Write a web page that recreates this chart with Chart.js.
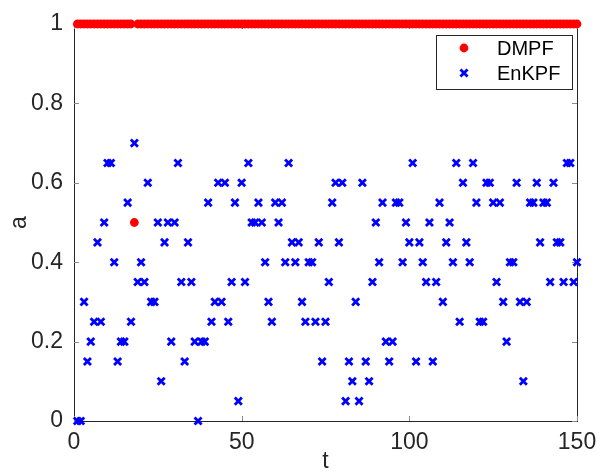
<!DOCTYPE html>
<html>
<head>
<meta charset="utf-8">
<script src="https://cdn.jsdelivr.net/npm/chart.js@4.4.0/dist/chart.umd.min.js"></script>
<style>
  body { margin: 0; background: #fff; }
  #wrap { width: 601px; height: 473px; }
</style>
</head>
<body>
<div id="wrap"><canvas id="chart" width="601" height="473"></canvas></div>
<script>
// time steps 1..150
const steps = [];
for (let i = 1; i <= 150; i++) steps.push(i);

const dmpf = [
  1, 1, 1, 1, 1, 1, 1, 1, 1, 1,
  1, 1, 1, 1, 1, 1, 1, 0.5, 1, 1,
  1, 1, 1, 1, 1, 1, 1, 1, 1, 1,
  1, 1, 1, 1, 1, 1, 1, 1, 1, 1,
  1, 1, 1, 1, 1, 1, 1, 1, 1, 1,
  1, 1, 1, 1, 1, 1, 1, 1, 1, 1,
  1, 1, 1, 1, 1, 1, 1, 1, 1, 1,
  1, 1, 1, 1, 1, 1, 1, 1, 1, 1,
  1, 1, 1, 1, 1, 1, 1, 1, 1, 1,
  1, 1, 1, 1, 1, 1, 1, 1, 1, 1,
  1, 1, 1, 1, 1, 1, 1, 1, 1, 1,
  1, 1, 1, 1, 1, 1, 1, 1, 1, 1,
  1, 1, 1, 1, 1, 1, 1, 1, 1, 1,
  1, 1, 1, 1, 1, 1, 1, 1, 1, 1,
  1, 1, 1, 1, 1, 1, 1, 1, 1, 1
];

const enkpf = [
  0, 0, 0.3, 0.15, 0.2, 0.25, 0.45, 0.25, 0.5, 0.65,
  0.65, 0.4, 0.15, 0.2, 0.2, 0.55, 0.25, 0.7, 0.35, 0.4,
  0.35, 0.6, 0.3, 0.3, 0.5, 0.1, 0.45, 0.5, 0.2, 0.5,
  0.65, 0.35, 0.15, 0.45, 0.35, 0.2, 0, 0.2, 0.2, 0.55,
  0.25, 0.3, 0.6, 0.3, 0.6, 0.25, 0.35, 0.55, 0.05, 0.6,
  0.35, 0.65, 0.5, 0.5, 0.55, 0.5, 0.4, 0.3, 0.25, 0.55,
  0.5, 0.55, 0.4, 0.65, 0.45, 0.4, 0.45, 0.3, 0.25, 0.4,
  0.4, 0.25, 0.45, 0.15, 0.25, 0.35, 0.55, 0.6, 0.45, 0.6,
  0.05, 0.15, 0.1, 0.3, 0.05, 0.6, 0.15, 0.1, 0.35, 0.5,
  0.4, 0.55, 0.2, 0.15, 0.2, 0.55, 0.55, 0.4, 0.5, 0.45,
  0.65, 0.15, 0.45, 0.4, 0.35, 0.5, 0.15, 0.35, 0.55, 0.3,
  0.45, 0.5, 0.4, 0.65, 0.25, 0.6, 0.45, 0.4, 0.65, 0.55,
  0.25, 0.25, 0.6, 0.6, 0.55, 0.35, 0.55, 0.3, 0.2, 0.4,
  0.4, 0.6, 0.3, 0.1, 0.3, 0.55, 0.55, 0.6, 0.45, 0.55,
  0.55, 0.35, 0.6, 0.45, 0.45, 0.35, 0.65, 0.65, 0.35, 0.4
];

const xTicks = [0, 50, 100, 150];
const yTicks = [0, 0.2, 0.4, 0.6, 0.8, 1];

const FONT = '"Liberation Sans", Arial, sans-serif';
const AXIS_COLOR = '#262626';

// box around the axes with inward tick marks on all four sides
const axisBox = {
  id: 'axisBox',
  beforeDatasetsDraw(chart) {
    const { ctx, chartArea: a, scales: { x, y } } = chart;
    const len = 5;
    ctx.save();
    ctx.strokeStyle = AXIS_COLOR;
    ctx.lineWidth = 1;
    ctx.strokeRect(a.left + 0.5, a.top + 0.5, a.right - a.left, a.bottom - a.top);
    ctx.strokeStyle = '#8c8c8c';
    ctx.beginPath();
    xTicks.forEach(v => {
      const px = Math.round(x.getPixelForValue(v)) + 0.5;
      ctx.moveTo(px, a.bottom); ctx.lineTo(px, a.bottom - len);
      ctx.moveTo(px, a.top); ctx.lineTo(px, a.top + len);
    });
    yTicks.forEach(v => {
      const py = Math.round(y.getPixelForValue(v)) + 0.5;
      ctx.moveTo(a.left, py); ctx.lineTo(a.left + len, py);
      ctx.moveTo(a.right, py); ctx.lineTo(a.right - len, py);
    });
    ctx.stroke();
    ctx.restore();
  }
};

// legend box in the upper right corner of the axes
const boxLegend = {
  id: 'boxLegend',
  afterDraw(chart) {
    const { ctx, chartArea: a } = chart;
    const w = 136, h = 54;
    const left = a.right - 5 - w, top = a.top + 11;
    ctx.save();
    ctx.fillStyle = '#fff';
    ctx.fillRect(left, top, w, h);
    ctx.strokeStyle = AXIS_COLOR;
    ctx.lineWidth = 1;
    ctx.strokeRect(left + 0.5, top + 0.5, w, h);
    ctx.font = '20px ' + FONT;
    ctx.textBaseline = 'middle';

    chart.data.datasets.forEach((ds, i) => {
      const cy = top + 13 + i * 25;
      const cx = left + 28;
      if (ds.pointStyle === 'circle') {
        ctx.fillStyle = ds.backgroundColor;
        ctx.beginPath();
        ctx.arc(cx, cy, ds.pointRadius, 0, Math.PI * 2);
        ctx.fill();
      } else {
        const d = ds.pointRadius * Math.SQRT1_2;
        ctx.strokeStyle = ds.borderColor;
        ctx.lineWidth = ds.borderWidth;
        ctx.beginPath();
        ctx.moveTo(cx - d, cy - d); ctx.lineTo(cx + d, cy + d);
        ctx.moveTo(cx + d, cy - d); ctx.lineTo(cx - d, cy + d);
        ctx.stroke();
      }
      ctx.fillStyle = '#000';
      ctx.fillText(ds.label, left + 61, cy + 1);
    });
    ctx.restore();
  }
};

new Chart(document.getElementById('chart'), {
  type: 'scatter',
  data: {
    datasets: [
      {
        label: 'DMPF',
        data: steps.map((t, i) => ({ x: t, y: dmpf[i] })),
        pointStyle: 'circle',
        pointRadius: 4.4,
        backgroundColor: '#ff0000',
        borderColor: '#ff0000',
        borderWidth: 0,
        clip: false
      },
      {
        label: 'EnKPF',
        data: steps.map((t, i) => ({ x: t, y: enkpf[i] })),
        pointStyle: 'crossRot',
        pointRadius: 5,
        backgroundColor: '#0000ff',
        borderColor: '#0000ff',
        borderWidth: 2.8,
        clip: false
      }
    ]
  },
  options: {
    responsive: false,
    animation: false,
    devicePixelRatio: 1,
    layout: { padding: { left: 0, right: 24, top: 24, bottom: 0 } },
    plugins: {
      legend: { display: false },
      tooltip: { enabled: false }
    },
    scales: {
      x: {
        type: 'linear',
        min: 0,
        max: 150,
        afterFit(scale) {
          scale.height = 52;
          scale.paddingLeft = 0;
          scale.paddingRight = 0;
        },
        afterBuildTicks(scale) { scale.ticks = xTicks.map(v => ({ value: v })); },
        grid: { display: false, drawTicks: false },
        border: { display: false },
        ticks: {
          padding: 8,
          maxRotation: 0,
          color: AXIS_COLOR,
          font: { family: FONT, size: 23 },
          callback: v => String(v)
        },
        title: {
          display: true,
          text: 't',
          color: AXIS_COLOR,
          padding: 0,
          font: { family: FONT, size: 23, lineHeight: 1 }
        }
      },
      y: {
        type: 'linear',
        min: 0,
        max: 1,
        afterFit(scale) {
          scale.width = 74;
          scale.paddingTop = 0;
          scale.paddingBottom = 0;
        },
        afterBuildTicks(scale) { scale.ticks = yTicks.map(v => ({ value: v })); },
        grid: { display: false, drawTicks: false },
        border: { display: false },
        ticks: {
          padding: 11,
          color: AXIS_COLOR,
          font: { family: FONT, size: 23 },
          callback: v => String(v)
        },
        title: {
          display: true,
          text: 'a',
          color: AXIS_COLOR,
          padding: { top: 8, bottom: 0 },
          font: { family: FONT, size: 23, lineHeight: 1 }
        }
      }
    }
  },
  plugins: [axisBox, boxLegend]
});
</script>
</body>
</html>
